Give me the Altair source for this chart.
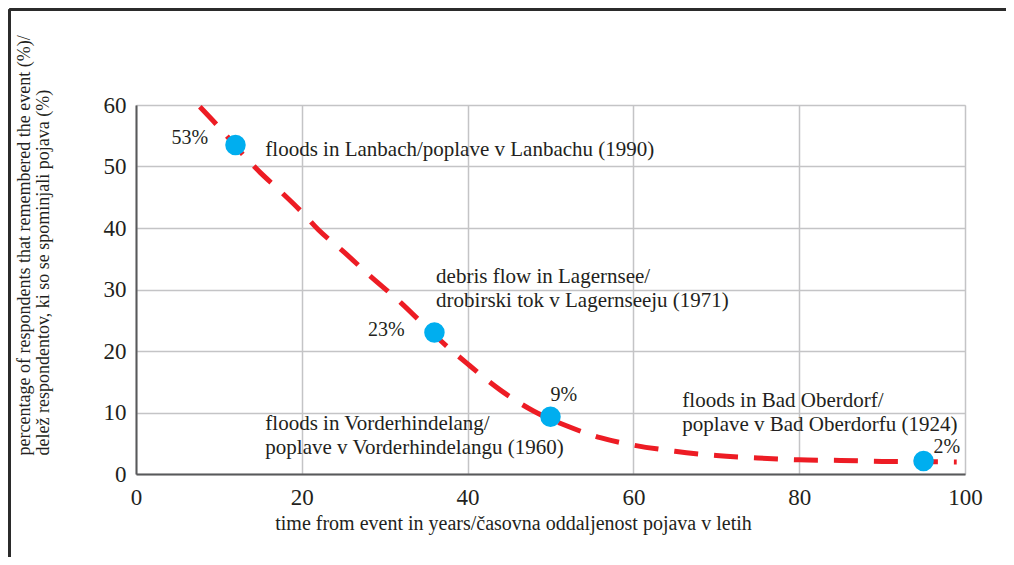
import altair as alt
import pandas as pd

# --- data ---
event_years = [12, 36, 50, 95]           # time from event (years)
event_pct = [53.5, 23.0, 9.3, 2.1]       # % remembering
pct_labels = ["53%", "23%", "9%", "2%"]

# fitted decay curve
curve_x = [7.7, 10, 13, 15, 17, 20, 22, 25, 28, 32, 36, 40, 44, 48, 52, 56,
           60, 65, 70, 75, 80, 85, 90, 95, 99]
curve_y = [59.7, 56.4, 51.8, 49.0, 46.5, 42.6, 39.7, 36.2, 32.5, 27.8, 22.6,
           17.9, 13.6, 10.2, 7.8, 5.9, 4.7, 3.7, 3.0, 2.6, 2.3, 2.2, 2.05, 2.0, 1.95]

# event descriptions and their anchor (data units, first line)
event_names = [
    "floods in Lanbach/poplave v Lanbachu (1990)",
    "debris flow in Lagernsee/\ndrobirski tok v Lagernseeju (1971)",
    "floods in Vorderhindelang/\npoplave v Vorderhindelangu (1960)",
    "floods in Bad Oberdorf/\npoplave v Bad Oberdorfu (1924)",
]
name_x = [15.6, 36.2, 15.6, 65.9]
name_y = [52.7, 32.0, 8.1, 11.9]

# percentage label anchors (data units)
pct_x = [8.7, 32.4, 51.6, 97.8]
pct_y = [54.6, 23.4, 12.8, 4.4]
pct_align = ["right", "right", "center", "center"]

x_ticks = [0, 20, 40, 60, 80, 100]
y_ticks = [0, 10, 20, 30, 40, 50, 60]

x_title = "time from event in years/časovna oddaljenost pojava v letih"
y_title = ["percentage of respondents that remembered the event (%)/",
           "delež respondentov, ki so se spominjali pojava (%)"]

FONT = "Liberation Serif"
TXT = "#231f20"
W, H = 829, 369

curve_df = pd.DataFrame({"x": curve_x, "y": curve_y})
pts_df = pd.DataFrame({"x": event_years, "y": event_pct})
names_df = pd.DataFrame({"x": name_x, "y": name_y, "t": event_names})
pct_df = pd.DataFrame({"x": pct_x, "y": pct_y, "t": pct_labels, "a": pct_align})

xs = alt.Scale(domain=[0, 100], nice=False)
ys = alt.Scale(domain=[0, 60], nice=False)

x_axis = alt.Axis(values=x_ticks, ticks=False, labelFont=FONT, labelFontSize=23,
                  labelColor=TXT, labelPadding=12, labelFlush=False,
                  domainColor="#58595b",
                  domainWidth=2, gridColor="#c4c4c6", gridWidth=1.5,
                  title=x_title, titleFont=FONT, titleFontSize=20,
                  titleFontWeight="normal", titleColor=TXT,
                  titleX=377, titleY=49, titleAlign="center",
                  titleBaseline="middle")
y_axis = alt.Axis(values=y_ticks, ticks=False, labelFont=FONT, labelFontSize=23,
                  labelColor=TXT, labelPadding=10, labelFlush=False,
                  domainColor="#58595b",
                  domainWidth=2, gridColor="#c4c4c6", gridWidth=1.5,
                  title=y_title, titleFont=FONT, titleFontSize=18,
                  titleFontWeight="normal", titleColor=TXT, titleAngle=270,
                  titleX=-121, titleY=350, titleAlign="left",
                  titleBaseline="top", titleLineHeight=19)

curve = alt.Chart(curve_df).mark_line(color="#ed1c24", strokeWidth=5,
                                      strokeDash=[24, 16],
                                      interpolate="monotone", clip=False).encode(
    x=alt.X("x:Q", scale=xs, axis=x_axis),
    y=alt.Y("y:Q", scale=ys, axis=y_axis),
)

points = alt.Chart(pts_df).mark_circle(size=420, color="#00aeef", opacity=1).encode(
    x=alt.X("x:Q", scale=xs), y=alt.Y("y:Q", scale=ys))

names = alt.Chart(names_df).mark_text(font=FONT, fontSize=21, color=TXT,
                                      align="left", baseline="middle",
                                      lineBreak="\n", lineHeight=24).encode(
    x=alt.X("x:Q", scale=xs), y=alt.Y("y:Q", scale=ys), text="t:N")

pct_r = alt.Chart(pct_df[pct_df.a == "right"]).mark_text(
    font=FONT, fontSize=20, color=TXT, align="right", baseline="middle").encode(
    x=alt.X("x:Q", scale=xs), y=alt.Y("y:Q", scale=ys), text="t:N")
pct_c = alt.Chart(pct_df[pct_df.a == "center"]).mark_text(
    font=FONT, fontSize=20, color=TXT, align="center", baseline="middle").encode(
    x=alt.X("x:Q", scale=xs), y=alt.Y("y:Q", scale=ys), text="t:N")

# page frame (decoration: top and left border lines at the chart's edge)
frame_left = alt.Chart(pts_df).mark_rule(color="#2b2b2b", strokeWidth=2.5).encode(
    x=alt.value(-126.5), y=alt.value(-95.5), y2=alt.value(452))
frame_top = alt.Chart(pts_df).mark_rule(color="#2b2b2b", strokeWidth=2.5).encode(
    x=alt.value(-126.5), x2=alt.value(880), y=alt.value(-95.5))

chart = alt.layer(curve, points, names, pct_r, pct_c, frame_left, frame_top).properties(
    width=W, height=H,
    autosize=alt.AutoSizeParams(type="none"),
    padding={"left": 128, "top": 97, "right": 41, "bottom": 83},
).configure_view(stroke=None).configure(background="white")

chart.save("out.html", embed_options={"renderer": "svg", "actions": False})
